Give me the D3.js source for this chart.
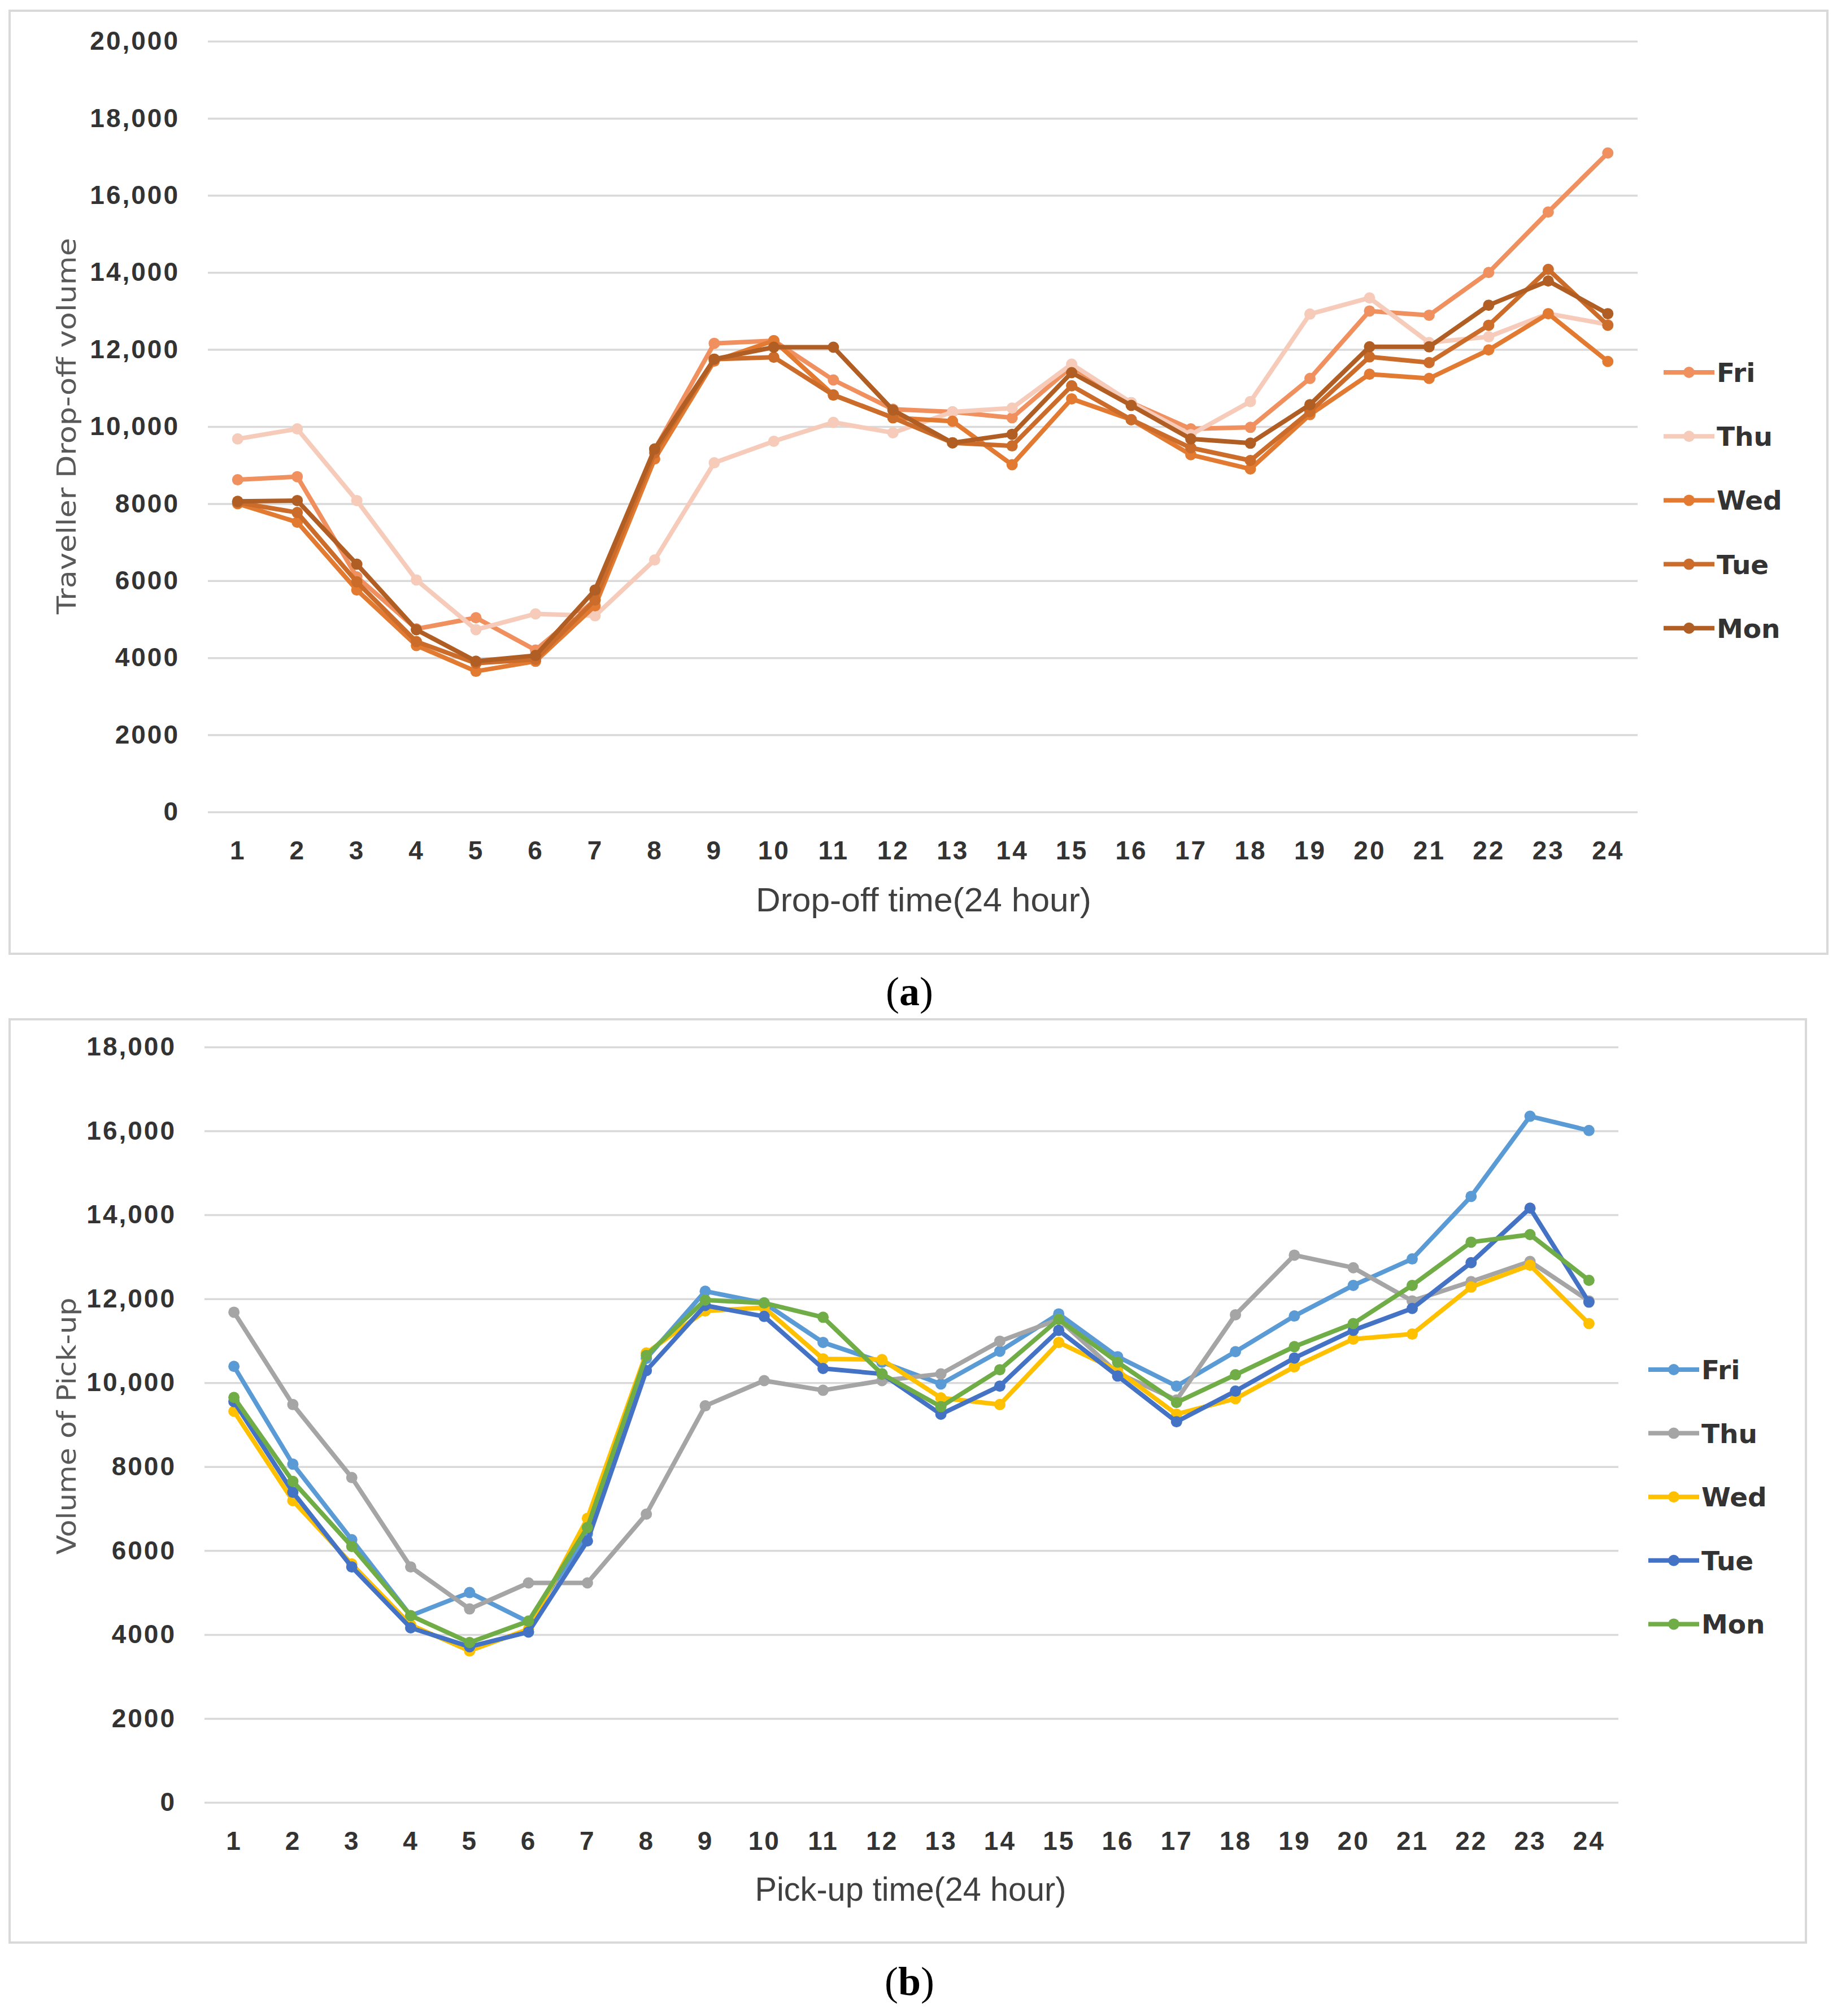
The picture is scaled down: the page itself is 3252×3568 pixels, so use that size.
<!DOCTYPE html>
<html>
<head>
<meta charset="utf-8">
<script src="https://cdn.jsdelivr.net/npm/d3@7"></script>
<style>
    body { margin: 0; background: #fff; }
    .ticktext { font-family: "Liberation Sans Narrow", "Liberation Sans", sans-serif; font-weight: bold; font-size: 46px; fill: #333; letter-spacing: 3px; }
    .axistitle { font-family: "DejaVu Sans", sans-serif; font-size: 46px; fill: #595959; }
    .xtitle { font-family: "Liberation Sans Narrow", "Liberation Sans", sans-serif; font-size: 60px; fill: #404040; }
    .legendtext { font-family: "DejaVu Sans", sans-serif; font-weight: bold; font-size: 47px; fill: #333; }
    .caption { font-family: "Liberation Serif", serif; font-size: 72px; fill: #000; }
</style>
</head>
<body>
<div id="main_div"></div>
<script>
/** Global Variables **/
let size = [3252, 3568];
const hours = [1, 2, 3, 4, 5, 6, 7, 8, 9, 10, 11, 12, 13, 14, 15, 16, 17, 18, 19, 20, 21, 22, 23, 24];
const days = ["Fri", "Thu", "Wed", "Tue", "Mon"];

// (a) drop-off volume per hour
const dropFri = [8620, 8700, 6100, 4750, 5040, 4200, 5500, 9400, 12160, 12230, 11210, 10450, 10380, 10230, 11550, 10620, 9940, 9980, 11250, 13000, 12890, 14000, 15570, 17100];
const dropThu = [9680, 9940, 8080, 6020, 4730, 5140, 5090, 6540, 9060, 9620, 10110, 9840, 10380, 10480, 11620, 10620, 9790, 10650, 12920, 13340, 12180, 12330, 12930, 12650];
const dropWed = [8000, 7520, 5760, 4320, 3650, 3910, 5350, 9160, 11700, 12230, 10820, 10230, 10140, 9010, 10720, 10180, 9270, 8900, 10310, 11360, 11250, 11990, 12930, 11690];
const dropTue = [8030, 7770, 5970, 4420, 3860, 3960, 5500, 9320, 11750, 11800, 10820, 10230, 9580, 9500, 11060, 10180, 9450, 9120, 10390, 11810, 11660, 12630, 14080, 12630];
const dropMon = [8060, 8080, 6430, 4730, 3910, 4060, 5760, 9420, 11750, 12060, 12060, 10430, 9580, 9800, 11400, 10550, 9680, 9570, 10570, 12070, 12070, 13150, 13780, 12930];

// (b) pick-up volume per hour
const pickFri = [10390, 8060, 6260, 4450, 5000, 4300, 6400, 10580, 12180, 11900, 10960, 10490, 9970, 10750, 11640, 10620, 9920, 10740, 11590, 12320, 12950, 14440, 16350, 16010];
const pickThu = [11680, 9480, 7740, 5610, 4610, 5230, 5230, 6870, 9450, 10050, 9820, 10050, 10210, 10990, 11510, 10230, 9590, 11620, 13040, 12740, 11950, 12410, 12890, 11950];
const pickWed = [9320, 7190, 5680, 4230, 3610, 4130, 6770, 10710, 11710, 11790, 10570, 10550, 9640, 9480, 10960, 10290, 9250, 9620, 10380, 11040, 11160, 12280, 12800, 11410];
const pickTue = [9550, 7390, 5610, 4160, 3710, 4060, 6230, 10290, 11840, 11580, 10340, 10210, 9250, 9920, 11250, 10160, 9070, 9800, 10590, 11250, 11770, 12860, 14160, 11920];
const pickMon = [9650, 7650, 6100, 4450, 3810, 4320, 6550, 10650, 11970, 11900, 11560, 10210, 9430, 10310, 11510, 10490, 9530, 10190, 10860, 11410, 12320, 13350, 13530, 12440];

const yTicksA = [0, 2000, 4000, 6000, 8000, 10000, 12000, 14000, 16000, 18000, 20000];
const yTicksB = [0, 2000, 4000, 6000, 8000, 10000, 12000, 14000, 16000, 18000];

const colorsA = ["#F0905F", "#F6CBBA", "#E27A31", "#CC6C2A", "#B05E23"];
const colorsB = ["#5B9BD5", "#A5A5A5", "#FFC000", "#4472C4", "#70AD47"];

const panelA = {
    box: [17, 19, 3235, 1688],
    plot: { left: 368, right: 2899, top: 73, bottom: 1437 },
    yTicks: yTicksA,
    series: [dropFri, dropThu, dropWed, dropTue, dropMon],
    colors: colorsA,
    yTitle: "Traveller Drop-off volume", yTitleY: 754, yTitleLen: 666,
    xTitle: "Drop-off time(24 hour)", xTitleX: 1635, xTitleY: 1613, xTitleLen: 594,
    legend: { x: 2945, y: 659, step: 113.2 },
    caption: "a", captionY: 1779
};
const panelB = {
    box: [17, 1804, 3197, 3438],
    plot: { left: 362, right: 2865, top: 1853, bottom: 3190 },
    yTicks: yTicksB,
    series: [pickFri, pickThu, pickWed, pickTue, pickMon],
    colors: colorsB,
    yTitle: "Volume of Pick-up", yTitleY: 2524, yTitleLen: 455,
    xTitle: "Pick-up time(24 hour)", xTitleX: 1612, xTitleY: 3364, xTitleLen: 551,
    legend: { x: 2918, y: 2424, step: 112.6 },
    caption: "b", captionY: 3531
};

render();

function render() {
    createSVG();
    drawPanel(panelA);
    drawPanel(panelB);
}

function createSVG() {
    d3.select("#main_div")
        .append("svg")
        .attr("width", size[0])
        .attr("height", size[1])
        .attr("id", "main_svg");
    d3.select("#main_svg").append("rect")
        .attr("width", size[0]).attr("height", size[1]).attr("fill", "#fff");
}

function tickFormat(d) {
    return d >= 10000 ? d3.format(",")(d) : String(d);
}

function drawPanel(p) {
    let svg = d3.select("#main_svg").append("g");

    /** panel frame **/
    svg.append("rect")
        .attr("x", p.box[0]).attr("y", p.box[1])
        .attr("width", p.box[2] - p.box[0]).attr("height", p.box[3] - p.box[1])
        .attr("fill", "none").attr("stroke", "#D9D9D9").attr("stroke-width", 4);

    /** scales **/
    let xScale = d3.scalePoint()
        .domain(hours)
        .range([p.plot.left, p.plot.right])
        .padding(0.5);
    let yScale = d3.scaleLinear()
        .domain([0, d3.max(p.yTicks)])
        .range([p.plot.bottom, p.plot.top]);

    /** y axis with gridlines **/
    let yAxis = d3.axisLeft(yScale)
        .tickValues(p.yTicks)
        .tickFormat(tickFormat)
        .tickSize(-(p.plot.right - p.plot.left))
        .tickPadding(50);
    let yg = svg.append("g")
        .attr("transform", "translate(" + p.plot.left + ",0)")
        .call(yAxis);
    yg.select(".domain").remove();
    yg.selectAll("line").attr("stroke", "#D9D9D9").attr("stroke-width", 3.5);
    yg.selectAll("text").attr("class", "ticktext").attr("font-size", null).attr("font-family", null);

    /** x axis labels **/
    let xAxis = d3.axisBottom(xScale).tickSize(0).tickPadding(51);
    let xg = svg.append("g")
        .attr("transform", "translate(0," + p.plot.bottom + ")")
        .call(xAxis);
    xg.select(".domain").remove();
    xg.selectAll("text").attr("class", "ticktext").attr("font-size", null).attr("font-family", null);

    /** lines and markers **/
    let line = d3.line()
        .x(function (d, i) { return xScale(hours[i]) })
        .y(function (d) { return yScale(d) });

    p.series.forEach(function (values, k) {
        let g = svg.append("g").attr("class", "series-" + days[k]);
        g.append("path")
            .datum(values)
            .attr("d", line)
            .attr("fill", "none")
            .attr("stroke", p.colors[k])
            .attr("stroke-width", 8)
            .attr("stroke-linejoin", "round");
        g.selectAll("circle")
            .data(values)
            .enter()
            .append("circle")
            .attr("cx", function (d, i) { return xScale(hours[i]) })
            .attr("cy", function (d) { return yScale(d) })
            .attr("r", 10)
            .attr("fill", p.colors[k]);
    });

    /** axis titles **/
    svg.append("text")
        .attr("class", "axistitle")
        .attr("transform", "translate(134," + p.yTitleY + ") rotate(-90)")
        .attr("text-anchor", "middle")
        .attr("textLength", p.yTitleLen)
        .attr("lengthAdjust", "spacingAndGlyphs")
        .text(p.yTitle);

    svg.append("text")
        .attr("class", "xtitle")
        .attr("x", p.xTitleX)
        .attr("y", p.xTitleY)
        .attr("text-anchor", "middle")
        .attr("textLength", p.xTitleLen)
        .attr("lengthAdjust", "spacingAndGlyphs")
        .text(p.xTitle);

    /** legend **/
    days.forEach(function (day, k) {
        let y = p.legend.y + k * p.legend.step;
        svg.append("line")
            .attr("x1", p.legend.x).attr("x2", p.legend.x + 90)
            .attr("y1", y).attr("y2", y)
            .attr("stroke", p.colors[k]).attr("stroke-width", 8);
        svg.append("circle")
            .attr("cx", p.legend.x + 45).attr("cy", y).attr("r", 10)
            .attr("fill", p.colors[k]);
        svg.append("text")
            .attr("class", "legendtext")
            .attr("x", p.legend.x + 94)
            .attr("y", y + 17)
            .text(day);
    });

    /** caption **/
    let cap = svg.append("text")
        .attr("class", "caption")
        .attr("x", 1610)
        .attr("y", p.captionY)
        .attr("text-anchor", "middle");
    cap.append("tspan").text("(");
    cap.append("tspan").attr("font-weight", "bold").text(p.caption);
    cap.append("tspan").text(")");
}
</script>
</body>
</html>
